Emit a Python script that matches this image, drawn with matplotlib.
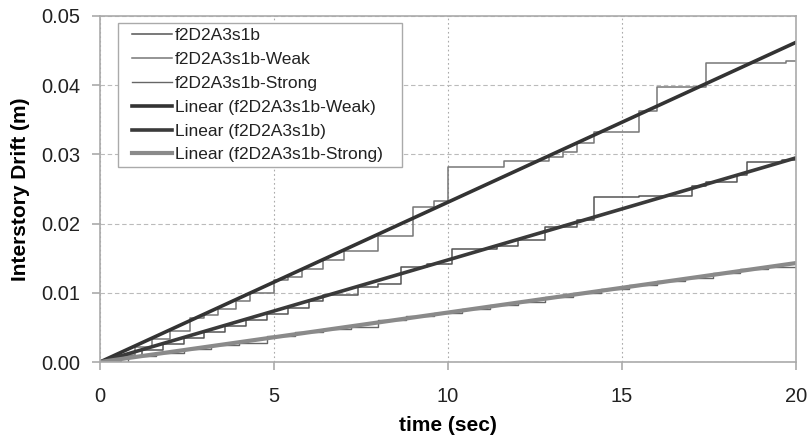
import matplotlib
matplotlib.use("Agg")
import matplotlib.pyplot as plt
from matplotlib.patches import Rectangle
import numpy as np

plt.rcParams['font.family'] = ['Liberation Sans', 'DejaVu Sans']

# step series (time, drift) - steps-post
weak_t = [0, 0.5, 1.0, 1.5, 2.0, 2.6, 3.0, 3.4, 3.9, 4.3, 5.0, 5.4, 5.8, 6.4, 7.0, 8.0, 9.0, 9.6,
          10.0, 11.6, 12.9, 13.3, 13.7, 14.2, 15.5, 16.0, 17.4, 19.7, 20.0]
weak_v = [0, 0.0010, 0.0021, 0.0033, 0.0045, 0.0064, 0.0068, 0.0076, 0.0088, 0.0100, 0.0119, 0.0123,
          0.0134, 0.0148, 0.0160, 0.0182, 0.0224, 0.0232, 0.0282, 0.0291, 0.0296, 0.0304, 0.0316,
          0.0333, 0.0363, 0.0397, 0.0432, 0.0435, 0.0435]

base_t = [0, 0.6, 1.2, 1.8, 2.4, 3.0, 3.6, 4.2, 4.8, 5.4, 6.0, 6.4, 7.4, 8.0, 8.65, 9.4, 10.1, 11.4,
          12.0, 12.8, 13.7, 14.2, 15.5, 17.0, 17.4, 18.3, 18.6, 19.6, 20.0]
base_v = [0, 0.0008, 0.0017, 0.0026, 0.0035, 0.0043, 0.0052, 0.0061, 0.0069, 0.0078, 0.0088, 0.0097,
          0.0108, 0.0112, 0.0138, 0.0141, 0.0163, 0.0168, 0.0177, 0.0195, 0.0205, 0.0238, 0.0240,
          0.0254, 0.0260, 0.0270, 0.0289, 0.0292, 0.0292]

strong_t = [0, 0.8, 1.6, 2.4, 3.2, 4.0, 4.8, 5.6, 6.4, 7.2, 8.0, 8.8, 9.6, 10.4, 11.2, 12.0, 12.8,
            13.6, 14.4, 15.2, 16.0, 16.8, 17.6, 18.4, 19.2, 19.7, 20.0]
strong_v = [0, 0.0008, 0.0013, 0.0019, 0.0025, 0.0027, 0.0037, 0.0043, 0.0048, 0.0050, 0.0060,
            0.0066, 0.0071, 0.0077, 0.0083, 0.0086, 0.0094, 0.0100, 0.0105, 0.0111, 0.0117,
            0.0122, 0.0128, 0.0134, 0.0137, 0.0138, 0.0138]

# linear trendline slopes (through origin)
slope_weak = 0.00231
slope_base = 0.001475
slope_strong = 0.000715
t_end = 20

fig = plt.figure(figsize=(8.09, 4.38), dpi=100)
ax = fig.add_axes([0.1236, 0.1735, 0.8604, 0.79])

l1, = ax.plot(base_t, base_v, drawstyle='steps-post', color='#555555', lw=1.1)
l2, = ax.plot(weak_t, weak_v, drawstyle='steps-post', color='#777777', lw=1.1)
l3, = ax.plot(strong_t, strong_v, drawstyle='steps-post', color='#666666', lw=1.0)

tt = np.array([0, t_end])
l4, = ax.plot(tt, slope_weak * tt, color='#333333', lw=2.6)
l5, = ax.plot(tt, slope_base * tt, color='#3a3a3a', lw=2.6)
l6, = ax.plot(tt, slope_strong * tt, color='#8a8a8a', lw=3.0)

ax.set_xlim(0, 20)
ax.set_ylim(0, 0.05)
ax.set_xticks([0, 5, 10, 15, 20])
ax.set_yticks([0, 0.01, 0.02, 0.03, 0.04, 0.05])
ax.set_yticklabels(['0.00', '0.01', '0.02', '0.03', '0.04', '0.05'])
ax.tick_params(axis='both', direction='out', length=6, width=1.2, color='#aaaaaa',
               labelsize=14.5, labelcolor='#222222')
ax.tick_params(axis='x', pad=12)
ax.tick_params(axis='y', pad=8)

ax.grid(axis='x', linestyle=(0, (1.5, 2.5)), color='#aaaaaa', lw=0.8)
ax.grid(axis='y', linestyle=(0, (4, 2.5)), color='#bbbbbb', lw=0.8)
for s in ax.spines.values():
    s.set_color('#aaaaaa')
    s.set_linewidth(1.2)

ax.set_xlabel('time (sec)', fontsize=15, fontweight='bold', labelpad=7)
ax.set_ylabel('Interstory Drift (m)', fontsize=15, fontweight='bold', labelpad=8)

# legend frame drawn separately
ax.add_patch(Rectangle((0.0259, 0.5636), 0.4081, 0.4162, transform=ax.transAxes,
                       facecolor='white', edgecolor='#aaaaaa', lw=1.0, zorder=4))
leg = ax.legend([l1, l2, l3, l4, l5, l6],
                ['f2D2A3s1b', 'f2D2A3s1b-Weak', 'f2D2A3s1b-Strong',
                 'Linear (f2D2A3s1b-Weak)', 'Linear (f2D2A3s1b)', 'Linear (f2D2A3s1b-Strong)'],
                loc='upper left', bbox_to_anchor=(0.046, 0.965), fontsize=12.5,
                frameon=False, handlelength=2.3, handletextpad=0.15, labelspacing=0.5,
                borderpad=0, borderaxespad=0)
leg.set_zorder(5)
for txt in leg.get_texts():
    txt.set_color('#222222')

fig.savefig('out.png', dpi=100)
